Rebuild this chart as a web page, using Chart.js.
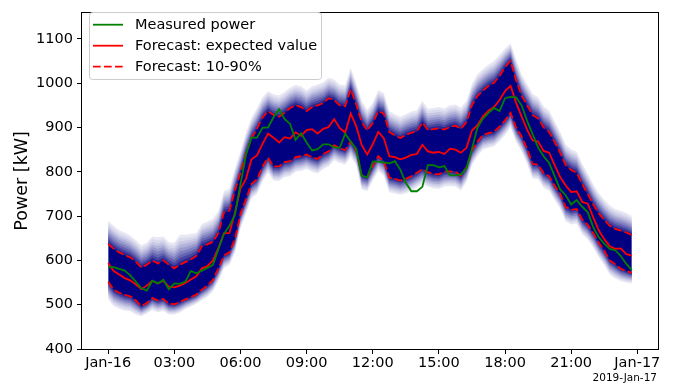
<!DOCTYPE html>
<html><head><meta charset="utf-8">
<script src="https://cdn.jsdelivr.net/npm/chart.js@4.4.1/dist/chart.umd.min.js"></script>
<style>html,body{margin:0;padding:0;background:#fff;}#wrap{width:681px;height:390px;position:relative;}</style>
</head><body><div id="wrap"><canvas id="c" width="681" height="390"></canvas></div>
<script>
const times = [
 '00:00','00:15','00:30','00:45','01:00','01:15','01:30','01:45',
 '02:00','02:15','02:30','02:45','03:00','03:15','03:30','03:45',
 '04:00','04:15','04:30','04:45','05:00','05:15','05:30','05:45',
 '06:00','06:15','06:30','06:45','07:00','07:15','07:30','07:45',
 '08:00','08:15','08:30','08:45','09:00','09:15','09:30','09:45',
 '10:00','10:15','10:30','10:45','11:00','11:15','11:30','11:45',
 '12:00','12:15','12:30','12:45','13:00','13:15','13:30','13:45',
 '14:00','14:15','14:30','14:45','15:00','15:15','15:30','15:45',
 '16:00','16:15','16:30','16:45','17:00','17:15','17:30','17:45',
 '18:00','18:15','18:30','18:45','19:00','19:15','19:30','19:45',
 '20:00','20:15','20:30','20:45','21:00','21:15','21:30','21:45',
 '22:00','22:15','22:30','22:45','23:00','23:15','23:30','23:45'];

const measured = [
 585,585,581,577,566,552,537,532, 554,548,556,535,548,547,552,576,
 571,577,583,590,626,660,678,703, 772,838,877,877,899,900,923,941,
 919,908,872,887,866,848,851,862, 862,855,854,886,868,852,791,788,
 823,823,821,819,824,805,775,756, 756,766,815,815,810,813,792,792,
 794,808,852,900,920,933,944,937, 966,969,968,950,915,885,855,835,
 820,790,760,747,726,736,721,709, 675,652,638,626,623,610,592,578];

const expected = [
 594,576,568,560,555,546,535,543, 554,548,554,541,539,543,549,557,
 564,582,587,600,628,661,662,708, 762,784,828,837,863,886,877,866,
 878,875,889,881,894,896,886,897, 901,919,899,888,931,903,860,839,
 862,890,876,835,833,828,832,838, 840,861,846,843,845,840,852,850,
 843,854,893,905,925,938,946,962, 982,994,956,925,895,871,868,847,
 843,815,788,769,754,756,732,728, 697,668,648,632,626,627,614,611];

const q90 = [
 637,626,618,612,607,597,584,590, 600,593,600,590,582,590,596,602,
 610,632,636,642,662,708,712,758, 798,842,876,897,922,937,928,924,
 933,944,950,946,937,946,950,955, 966,962,950,948,986,952,912,893,
 910,937,931,890,882,876,883,888, 891,911,894,896,898,895,901,904,
 897,912,950,971,983,994,1001,1016, 1036,1050,1006,972,950,928,920,900,
 890,867,843,815,804,798,772,750, 726,706,691,678,671,667,663,657];

const q10 = [
 552,534,527,522,519,510,497,504, 515,510,513,502,501,506,512,517,
 523,534,543,556,582,611,618,648, 705,738,773,783,812,832,812,812,
 822,824,833,835,839,833,829,840, 846,860,853,849,868,848,792,788,
 813,835,824,787,784,780,784,790, 798,806,799,795,794,800,801,800,
 791,810,848,868,883,887,890,902, 916,933,900,880,852,818,816,797,
 790,769,750,721,714,716,692,680, 662,640,622,600,591,581,576,572];

const q99 = [
 690,678,668,663,656,646,634,640, 654,652,654,641,640,658,658,660,
 662,682,688,694,712,756,762,808, 846,888,922,944,968,982,975,972,
 980,990,996,993,984,993,997,1002, 1012,1008,997,995,1035,1000,960,940,
 956,984,978,937,930,924,930,936, 939,960,942,944,946,943,950,952,
 945,960,998,1020,1032,1042,1050,1064, 1078,1090,1054,1020,998,976,968,948,
 938,914,890,862,851,845,818,796, 772,752,737,724,716,712,707,700];

const q01 = [
 512,497,491,487,485,478,474,480, 488,483,486,478,478,482,490,496,
 502,510,518,530,553,582,590,618, 672,705,740,750,778,798,780,779,
 788,790,800,802,806,800,796,806, 812,826,820,816,834,815,760,756,
 780,802,791,754,751,748,751,757, 765,773,766,762,761,767,768,767,
 758,777,815,835,850,854,857,869, 883,900,867,846,818,785,783,764,
 757,736,717,688,681,683,659,647, 629,607,589,568,559,553,550,548];

const xTickValues = [0,3,6,9,12,15,18,21,24];
const xTickLabels = ['Jan-16','03:00','06:00','09:00','12:00','15:00','18:00','21:00','Jan-17'];
const yTickValues = [400,500,600,700,800,900,1000,1100];
const yTickLabels = ['400','500','600','700','800','900','1000','1100'];
const legendLabels = ['Measured power','Forecast: expected value','Forecast: 10-90%'];
const offsetLabel = '2019-Jan-17';
const yTitle = 'Power [kW]';

const hrs = times.map(s => { const p = s.split(':').map(Number); return p[0] + p[1]/60; });
const pts = arr => arr.map((v,i) => ({x: hrs[i], y: v}));

const FONT = 'DejaVu Sans';
const bandColors = ['rgb(40,40,146)','rgb(70,70,162)','rgb(100,100,177)','rgb(128,128,192)','rgb(154,154,206)','rgb(178,178,218)','rgb(200,200,229)','rgb(218,218,238)','rgb(232,232,244)'];
const N = bandColors.length;

const datasets = [
 {label: legendLabels[0], data: pts(measured), borderColor:'#008000', borderWidth:1.8, fill:false, order:0},
 {label: legendLabels[1], data: pts(expected), borderColor:'#ff0000', borderWidth:1.8, fill:false, order:0},
 {label: legendLabels[2], data: pts(q90), borderColor:'#ff0000', borderWidth:1.8, borderDash:[7.7,3.3], fill:false, order:0},
 {label: 'q10', data: pts(q10), borderColor:'#ff0000', borderWidth:1.8, borderDash:[7.7,3.3], fill:false, order:0},
 {label: 'core', data: pts(q90), borderWidth:0, borderColor:'rgba(0,0,0,0)', backgroundColor:'#000080', fill:3, order:2}
];
for (let k = 1; k <= N; k++) {
  const f = k / N;
  datasets.push({label:'up'+k, data: q90.map((v,i)=>({x:hrs[i], y: v + (q99[i]-v)*f})), borderWidth:0, borderColor:'rgba(0,0,0,0)', backgroundColor: bandColors[k-1], fill:4, order:10+k});
  datasets.push({label:'lo'+k, data: q10.map((v,i)=>({x:hrs[i], y: v - (v-q01[i])*f})), borderWidth:0, borderColor:'rgba(0,0,0,0)', backgroundColor: bandColors[k-1], fill:3, order:10+k});
}

const decor = {
  id: 'decor',
  afterDraw(chart) {
    const ctx = chart.ctx, a = chart.chartArea;
    ctx.save();
    ctx.strokeStyle = '#000'; ctx.lineWidth = 1;
    ctx.strokeRect(Math.round(a.left)-0.5, Math.round(a.top)-0.5, Math.round(a.right-a.left)+1, Math.round(a.bottom-a.top)+1);
    const bx = 89.5, by = 12.5, bw = 232, bh = 67, r = 3;
    ctx.beginPath();
    ctx.moveTo(bx+r, by); ctx.lineTo(bx+bw-r, by); ctx.quadraticCurveTo(bx+bw, by, bx+bw, by+r);
    ctx.lineTo(bx+bw, by+bh-r); ctx.quadraticCurveTo(bx+bw, by+bh, bx+bw-r, by+bh);
    ctx.lineTo(bx+r, by+bh); ctx.quadraticCurveTo(bx, by+bh, bx, by+bh-r);
    ctx.lineTo(bx, by+r); ctx.quadraticCurveTo(bx, by, bx+r, by); ctx.closePath();
    ctx.fillStyle = 'rgba(255,255,255,0.8)'; ctx.fill();
    ctx.strokeStyle = '#cccccc'; ctx.lineWidth = 1; ctx.stroke();
    const rows = [24.7, 45.7, 66.7];
    const cols = ['#008000','#ff0000','#ff0000'];
    const dashes = [[],[],[7.7,3.3]];
    ctx.font = '14.5px "' + FONT + '"';
    ctx.textBaseline = 'middle'; ctx.textAlign = 'left';
    for (let i = 0; i < 3; i++) {
      ctx.beginPath(); ctx.setLineDash(dashes[i]);
      ctx.strokeStyle = cols[i]; ctx.lineWidth = 1.8;
      ctx.moveTo(93, rows[i]); ctx.lineTo(123, rows[i]); ctx.stroke();
      ctx.setLineDash([]);
      ctx.fillStyle = '#000';
      ctx.fillText(legendLabels[i], 135, rows[i]+0.5);
    }
    ctx.font = '10.5px "' + FONT + '"';
    ctx.textAlign = 'right'; ctx.textBaseline = 'middle';
    ctx.fillText(offsetLabel, 657, 378);
    ctx.restore();
  }
};

new Chart(document.getElementById('c'), {
  type: 'line',
  data: { datasets },
  options: {
    responsive: false, animation: false, devicePixelRatio: 1,
    elements: { point: { radius: 0, hoverRadius: 0 }, line: { tension: 0 } },
    layout: { padding: { left: 0, right: 23, top: 5, bottom: 0 } },
    plugins: { legend: { display: false }, tooltip: { enabled: false }, filler: { propagate: false } },
    scales: {
      x: {
        type: 'linear', min: -1.1875, max: 24.9375,
        afterBuildTicks: s => { s.ticks = xTickValues.map(v => ({value: v})); },
        afterFit: s => { s.height = 41; },
        ticks: { callback: (v, i) => xTickLabels[i], autoSkip: false, maxRotation: 0, padding: 1, color: '#000', font: { family: FONT, size: 14.5 } },
        grid: { drawOnChartArea: false, tickLength: 5, color: '#000', lineWidth: 1 },
        border: { display: false }
      },
      y: {
        type: 'linear', min: 400, max: 1159,
        afterBuildTicks: s => { s.ticks = yTickValues.map(v => ({value: v})); },
        afterFit: s => { s.width = 82; },
        ticks: { callback: (v, i) => yTickLabels[i], padding: 4, color: '#000', font: { family: FONT, size: 14.5 } },
        grid: { drawOnChartArea: false, tickLength: 5, color: '#000', lineWidth: 1 },
        border: { display: false },
        title: { display: true, text: yTitle, color: '#000', font: { family: FONT, size: 17.5 }, padding: { top: 12, bottom: 0 } }
      }
    }
  },
  plugins: [decor]
});
</script></body></html>
